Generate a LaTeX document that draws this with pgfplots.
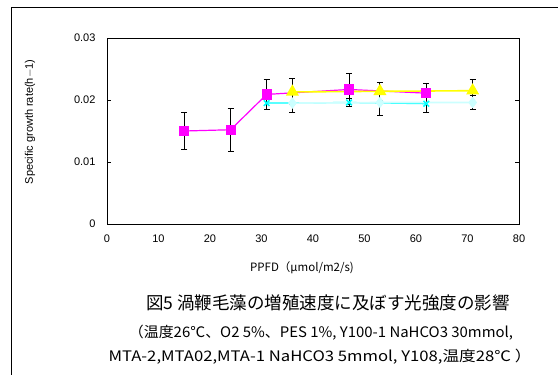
\documentclass[border=0pt]{standalone}
\usepackage{pgfplots}
\pgfplotsset{compat=1.18}
\usepackage{fontspec}
\setmainfont{Liberation Sans}
\newfontfamily\jp{Noto Sans CJK JP}
\definecolor{mag}{RGB}{255,0,255}
\definecolor{yel}{RGB}{255,255,0}
\definecolor{cya}{RGB}{0,255,255}
\definecolor{pale}{RGB}{204,255,255}
\begin{document}
\begin{tikzpicture}
\useasboundingbox (0,0) rectangle (558pt,375pt);
\draw[line width=0.8pt] (11pt,0pt) -- (11pt,368pt) -- (558pt,368pt);
\begin{axis}[
  at={(107pt,151pt)}, anchor=south west,
  scale only axis, width=412pt, height=186pt,
  xmin=0, xmax=80, ymin=0, ymax=0.03,
  xtick={0,10,...,80},
  ytick={0,0.01,0.02,0.03},
  yticklabels={0,0.01,0.02,0.03},
  scaled y ticks=false,
  /pgf/number format/assume math mode=true,
  axis line style={line width=0.8pt},
  tick align=inside, major tick length=4pt,
  xtick style={draw=none},
  ytick style={line width=0.8pt, black},
  tick label style={font=\fontsize{11}{13}\selectfont},
  xticklabel style={yshift=-7pt},
  yticklabel style={xshift=-8pt},
  clip=false,
  error bars/error bar style={black, line width=1pt},
  error bars/error mark options={rotate=90, mark size=3pt, black, line width=1pt},
]
\addplot[mag, line width=1.2pt, mark=square*, mark size=4.5pt, mark options={solid,fill=mag,draw=mag},
  error bars/.cd, y dir=both, y explicit] coordinates {
  (15,0.0150) +- (0,0.0030)
  (24,0.0152) +- (0,0.0035)
  (31,0.0209) +- (0,0.0024)
  (47,0.0217) +- (0,0.0025)
  (62,0.0211) +- (0,0.0015)
};
\addplot[yel, line width=1.6pt, mark=triangle*, mark size=6pt, mark options={solid,fill=yel,draw=yel},
  error bars/.cd, y dir=both, y explicit] coordinates {
  (36,0.0213) +- (0,0.0021)
  (53,0.0214) +- (0,0.0015)
  (71,0.0215) +- (0,0.0018)
};
\addplot[cya, line width=1.2pt, mark=x, mark size=4pt, mark options={solid,draw=cya,line width=1.5pt},
  error bars/.cd, y dir=both, y explicit] coordinates {
  (31,0.0195) +- (0,0.0010)
  (47,0.0196) +- (0,0.0007)
  (62,0.0194) +- (0,0.0014)
};
\addplot[pale, line width=1.6pt, mark=diamond*, mark size=4.5pt, mark options={solid,fill=pale,draw=pale},
  error bars/.cd, y dir=both, y explicit] coordinates {
  (36,0.0195) +- (0,0.0015)
  (53,0.0196) +- (0,0.0021)
  (71,0.0196) +- (0,0.0011)
};
\end{axis}
\node[rotate=90, font=\fontsize{11}{13}\selectfont] at (30pt,253pt) {Specific growth rate(h$-$1)};
\node[font=\jp\fontsize{11.5}{13}\selectfont] at (302pt,107pt) {PPFD（μmol/m2/s)};
\node[font=\jp\fontsize{17.5}{20}\selectfont] at (328pt,72pt) {図5\ 渦鞭毛藻の増殖速度に及ぼす光強度の影響};
\node[font=\jp\fontsize{14.5}{16}\selectfont] at (321pt,42pt) {\scalebox{1.03}[1]{（温度26℃、O2 5\%、PES 1\%, Y100-1 NaHCO3 30mmol,}};
\node[font=\jp\fontsize{14.5}{16}\selectfont] at (320pt,18pt) {\scalebox{1.15}[1]{MTA-2,MTA02,MTA-1 NaHCO3 5mmol, Y108,温度28℃ ）}};
\end{tikzpicture}
\end{document}
